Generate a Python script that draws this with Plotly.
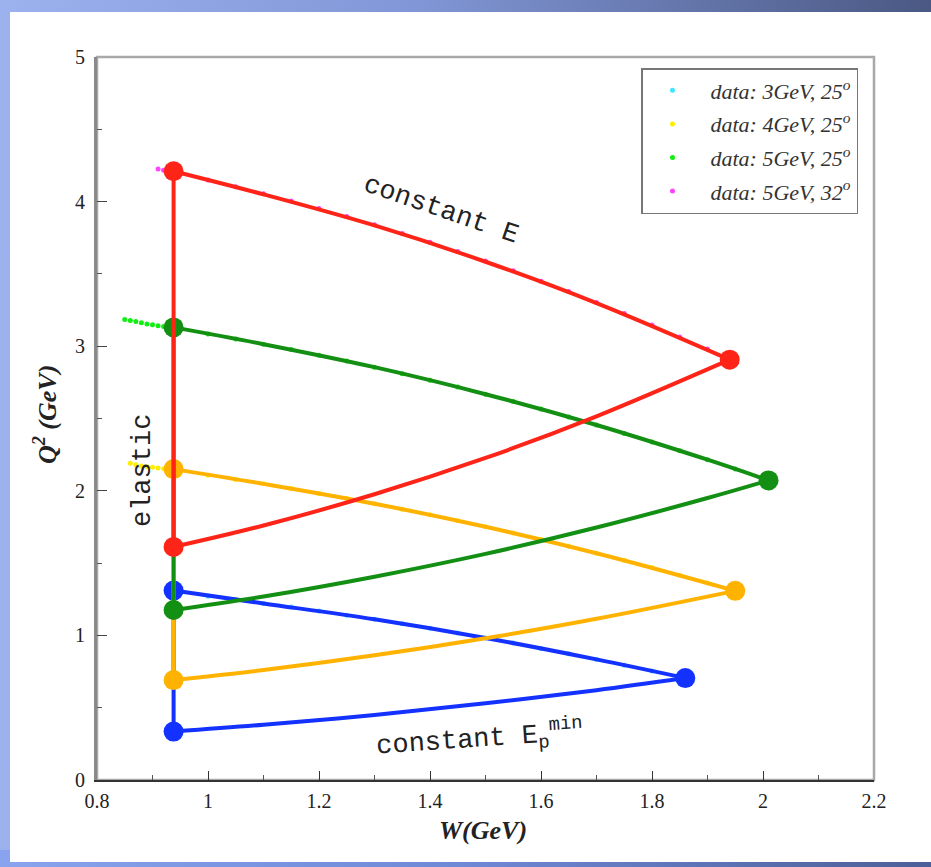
import base64
import plotly.graph_objects as go

# ---------------- kinematic coverage curves (W in GeV, Q^2 in GeV^2) ----------------
# beam 5 GeV, 32 deg
red_top_W = [0.938, 1.1, 1.3, 1.5, 1.7, 1.94]
red_top_Q2 = [4.21, 4.050, 3.835, 3.584, 3.298, 2.907]
red_bot_W = [0.938, 1.1, 1.3, 1.5, 1.7, 1.94]
red_bot_Q2 = [1.612, 1.760, 1.976, 2.227, 2.515, 2.907]

# beam 5 GeV, 25 deg
green_top_W = [0.938, 1.1, 1.3, 1.5, 1.7, 1.9, 2.01]
green_top_Q2 = [3.13, 3.014, 2.855, 2.668, 2.455, 2.215, 2.072]
green_bot_W = [0.938, 1.1, 1.3, 1.5, 1.7, 1.9, 2.01]
green_bot_Q2 = [1.176, 1.269, 1.406, 1.564, 1.746, 1.950, 2.072]

# beam 4 GeV, 25 deg
yellow_top_W = [0.938, 1.1, 1.3, 1.5, 1.7, 1.95]
yellow_top_Q2 = [2.15, 2.048, 1.911, 1.751, 1.568, 1.308]
yellow_bot_W = [0.938, 1.1, 1.3, 1.5, 1.7, 1.95]
yellow_bot_Q2 = [0.691, 0.760, 0.862, 0.980, 1.115, 1.308]

# beam 3 GeV, 25 deg
blue_top_W = [0.938, 1.1, 1.3, 1.5, 1.7, 1.86]
blue_top_Q2 = [1.31, 1.221, 1.111, 0.982, 0.834, 0.705]
blue_bot_W = [0.938, 1.1, 1.3, 1.5, 1.7, 1.86]
blue_bot_Q2 = [0.335, 0.382, 0.450, 0.530, 0.621, 0.705]

# ---------------- measured data points ----------------
d3_W = [0.95, 1.00, 1.05, 1.10, 1.15, 1.20, 1.25, 1.30, 1.35, 1.40, 1.45, 1.50,
        1.55, 1.60, 1.65, 1.70, 1.75, 1.80, 1.85]
d3_Q2 = [1.292, 1.270, 1.246, 1.221, 1.196, 1.169, 1.140, 1.111, 1.080, 1.049, 1.016, 0.982,
         0.947, 0.910, 0.873, 0.834, 0.794, 0.754, 0.711]

d4_W = [0.86, 0.87, 0.88, 0.89, 0.90, 0.91, 0.92, 0.93, 0.95, 1.00, 1.05, 1.10, 1.15, 1.20,
        1.25, 1.30, 1.35, 1.40, 1.45, 1.50, 1.55, 1.60, 1.65, 1.70, 1.75, 1.80, 1.85, 1.90, 1.95]
d4_Q2 = [2.190, 2.180, 2.172, 2.167, 2.162, 2.157, 2.152, 2.147, 2.136, 2.108, 2.079, 2.048, 2.016, 1.982,
         1.947, 1.911, 1.873, 1.834, 1.793, 1.751, 1.708, 1.663, 1.616, 1.568, 1.519, 1.469, 1.416, 1.363, 1.308]

d5_W = [0.85, 0.86, 0.87, 0.88, 0.89, 0.90, 0.91, 0.92, 0.93, 0.95, 1.00, 1.05, 1.10, 1.15, 1.20,
        1.25, 1.30, 1.35, 1.40, 1.45, 1.50, 1.55, 1.60, 1.65, 1.70, 1.75, 1.80, 1.85, 1.90, 1.95, 2.00, 2.01]
d5_Q2 = [3.185, 3.177, 3.170, 3.162, 3.154, 3.148, 3.142, 3.136, 3.129, 3.117, 3.084, 3.050, 3.014, 2.977, 2.938,
         2.897, 2.855, 2.810, 2.765, 2.717, 2.668, 2.617, 2.565, 2.511, 2.455, 2.397, 2.338, 2.277, 2.215, 2.151, 2.085, 2.072]

d5b_W = [0.91, 0.92, 0.93, 0.95, 1.00, 1.05, 1.10, 1.15, 1.20, 1.25, 1.30, 1.35, 1.40, 1.45,
         1.50, 1.55, 1.60, 1.65, 1.70, 1.75, 1.80, 1.85, 1.90, 1.94]
d5b_Q2 = [4.225, 4.217, 4.209, 4.192, 4.149, 4.103, 4.055, 4.004, 3.952, 3.897, 3.840, 3.780, 3.719, 3.655,
          3.589, 3.521, 3.450, 3.378, 3.303, 3.226, 3.146, 3.064, 2.980, 2.912]

legend_labels = ["data: 3GeV, 25<sup>o</sup>", "data: 4GeV, 25<sup>o</sup>",
                 "data: 5GeV, 25<sup>o</sup>", "data: 5GeV, 32<sup>o</sup>"]

# ---------------- styling ----------------
SERIF = "Liberation Serif, Times New Roman, serif"
MONO = "Liberation Mono, Courier New, monospace"

fig = go.Figure()

data_sets = [
    (d3_W, d3_Q2, "#3fe6ff"),
    (d4_W, d4_Q2, "#ffee00"),
    (d5_W, d5_Q2, "#11ee11"),
    (d5b_W, d5b_Q2, "#ff44ff"),
]
for i, ((w, q, col), name) in enumerate(zip(data_sets, legend_labels)):
    fig.add_trace(go.Scatter(x=w, y=q, mode="markers", name=name, legendgroup=f"g{i}",
                             marker=dict(color=col, size=5, line=dict(width=0))))

curves = [
    ("#1432ff", blue_top_W, blue_top_Q2, blue_bot_W, blue_bot_Q2),
    ("#ffb300", yellow_top_W, yellow_top_Q2, yellow_bot_W, yellow_bot_Q2),
    ("#138f13", green_top_W, green_top_Q2, green_bot_W, green_bot_Q2),
    ("#ff2418", red_top_W, red_top_Q2, red_bot_W, red_bot_Q2),
]
for col, tw, tq, bw, bq in curves:
    # elastic line between the two elastic points
    fig.add_trace(go.Scatter(x=[tw[0], bw[0]], y=[tq[0], bq[0]], mode="lines",
                             line=dict(color=col, width=4), showlegend=False, hoverinfo="skip"))
    # constant beam energy
    fig.add_trace(go.Scatter(x=tw, y=tq, mode="lines", line=dict(color=col, width=4, shape="spline"),
                             showlegend=False, hoverinfo="skip"))
    # constant minimum scattered energy
    fig.add_trace(go.Scatter(x=bw, y=bq, mode="lines", line=dict(color=col, width=4, shape="spline"),
                             showlegend=False, hoverinfo="skip"))
    # corner points
    fig.add_trace(go.Scatter(x=[tw[0], bw[0], tw[-1]], y=[tq[0], bq[0], tq[-1]], mode="markers",
                             marker=dict(color=col, size=20, line=dict(width=0)),
                             showlegend=False, hoverinfo="skip"))

# slide-style backdrop: blue gradient frame around a white panel
W_PX, H_PX = 931, 867
ML, MR, MT, MB = 97, 57, 57, 87
PW, PH = W_PX - ML - MR, H_PX - MT - MB
svg = f"""<svg xmlns="http://www.w3.org/2000/svg" width="{W_PX}" height="{H_PX}" viewBox="0 0 {W_PX} {H_PX}" preserveAspectRatio="none">
<defs>
<linearGradient id="g" x1="0" y1="0" x2="1" y2="0">
<stop offset="0" stop-color="#9cb2ef"/>
<stop offset="0.45" stop-color="#8196d6"/>
<stop offset="1" stop-color="#4a5883"/>
</linearGradient>
<linearGradient id="b" x1="0" y1="0" x2="1" y2="0">
<stop offset="0" stop-color="#8aa3ee"/>
<stop offset="0.5" stop-color="#6f88d6"/>
<stop offset="1" stop-color="#4d5f98"/>
</linearGradient>
</defs>
<rect width="{W_PX}" height="{H_PX}" fill="url(#g)"/>
<rect x="0" y="850" width="{W_PX}" height="17" fill="url(#b)"/>
<rect x="10" y="12" width="{W_PX - 10}" height="850" fill="#ffffff"/>
</svg>"""
bg_uri = "data:image/svg+xml;base64," + base64.b64encode(svg.encode()).decode()

fig.add_layout_image(dict(source=bg_uri, xref="paper", yref="paper",
                          x=-ML / PW, y=1 + MT / PH, sizex=W_PX / PW, sizey=H_PX / PH,
                          xanchor="left", yanchor="top", sizing="stretch", layer="below"))

# frame (top and right edges in light grey)
fig.add_shape(type="rect", xref="paper", yref="paper", x0=0, y0=0, x1=1, y1=1,
              line=dict(color="#a8a8a8", width=2.5), layer="below")

axis_font = dict(family=SERIF, size=20, color="#222")
fig.update_xaxes(range=[0.8, 2.2], tick0=0.8, dtick=0.2, ticks="inside", ticklen=9, tickwidth=1.3,
                 tickcolor="#333", minor=dict(dtick=0.1, ticks="inside", ticklen=5, tickwidth=1.2,
                                              tickcolor="#555"),
                 showline=True, linecolor="#333", linewidth=2, showgrid=False, zeroline=False,
                 tickfont=axis_font, ticklabelstandoff=2)
fig.update_yaxes(range=[0, 5], dtick=1, ticks="inside", ticklen=10, tickwidth=1.3, tickcolor="#444",
                 minor=dict(dtick=0.5, ticks="inside", ticklen=5, tickwidth=1.2, tickcolor="#555"),
                 showline=True, linecolor="#8a8a8a", linewidth=3, showgrid=False, zeroline=False,
                 tickfont=axis_font, ticklabelstandoff=5)


def paper_x(px):
    return (px - ML) / PW


def paper_y(py):
    return 1 - (py - MT) / PH


title_font = dict(family=SERIF, size=26, color="#222", weight="bold", style="italic")
text_font = dict(family=MONO, size=27, color="#222")
fig.update_layout(
    width=W_PX, height=H_PX,
    margin=dict(l=ML, r=MR, t=MT, b=MB, pad=0),
    paper_bgcolor="#ffffff", plot_bgcolor="rgba(0,0,0,0)",
    legend=dict(x=paper_x(641), y=paper_y(68), xanchor="left", yanchor="top", bgcolor="#ffffff",
                bordercolor="#777", borderwidth=1.5, indentation=-8,
                font=dict(family=SERIF, size=22, color="#333", style="italic"),
                tracegroupgap=2, itemwidth=66),
    annotations=[
        dict(text="W(GeV)", xref="paper", yref="paper", x=paper_x(483), y=paper_y(830),
             xanchor="center", yanchor="middle", showarrow=False, font=title_font),
        dict(text="Q<sup>2</sup> (GeV)", xref="paper", yref="paper", x=paper_x(45),
             y=paper_y(415), xanchor="center", yanchor="middle", showarrow=False, textangle=-90,
             font=title_font),
        dict(text="constant E", x=1.42, y=3.94, xanchor="center", yanchor="middle",
             showarrow=False, textangle=19, font=text_font),
        dict(text="elastic", x=0.883, y=2.137, xanchor="center", yanchor="middle",
             showarrow=False, textangle=-90, font=text_font),
        dict(text="constant E<sub>p</sub><sup>min</sup>", x=1.49, y=0.29, xanchor="center",
             yanchor="middle", showarrow=False, textangle=-4, font=text_font),
    ],
)

fig.write_html("out.html")
